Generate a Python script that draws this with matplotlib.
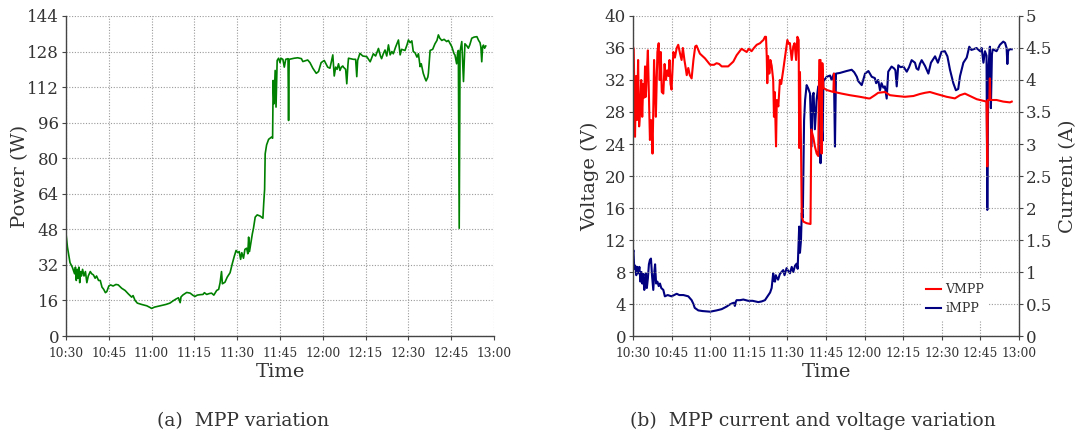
import numpy as np
import matplotlib
matplotlib.use('Agg')
import matplotlib.pyplot as plt
from matplotlib.lines import Line2D

plt.rcParams['font.family'] = ['DejaVu Serif']
plt.rcParams['text.color'] = '#333333'
plt.rcParams['axes.labelcolor'] = '#333333'
plt.rcParams['xtick.color'] = '#333333'
plt.rcParams['ytick.color'] = '#333333'

# minutes after 10:30
time_ticks = [0, 15, 30, 45, 60, 75, 90, 105, 120, 135, 150]
time_labels = ['10:30', '10:45', '11:00', '11:15', '11:30', '11:45',
               '12:00', '12:15', '12:30', '12:45', '13:00']

power_t = [0, 0.5, 1.4, 2.2, 3.0, 3.3, 3.6, 3.9, 4.2, 4.5, 4.8, 5.1, 5.4, 5.8, 6.3, 6.8,
           7.3, 7.8, 8.5, 9.0, 9.6, 10.2, 10.7, 11.4, 12.0, 12.6, 13.2, 13.8, 14.3, 15.0,
           15.6, 16.5, 17.5, 18.3, 19.5, 20.7, 21.8, 23.0, 23.5, 24.2, 25.0, 26.5, 28.3,
           29.5, 30.0, 31.0, 33.0, 35.0, 36.4, 37.5, 38.5, 39.4, 40.0, 40.3, 41.0, 42.3,
           43.5, 44.5, 45.2, 46.0, 47.0, 48.0, 48.5, 49.3, 50.2, 51.0, 51.8, 52.8, 53.5,
           54.0, 54.5, 54.8, 55.7, 56.5, 57.5, 58.3, 59.0, 59.6, 60.2, 60.7, 61.2, 61.6,
           62.2, 62.7, 63.3, 63.7, 64.0, 64.3, 64.8, 65.3, 65.7, 66.3, 67.0, 68.0, 69.0,
           69.3, 69.6, 69.8, 70.3, 71.0, 72.0, 72.4, 72.6, 72.9, 73.3, 73.6, 74.0, 74.5,
           75.0, 75.3, 76.0, 76.5, 77.0, 77.8, 78.0, 78.2, 80.0, 81.2, 82.5, 83.0, 84.7,
           85.5, 86.5, 87.7, 88.5, 89.4, 90.5, 91.7, 92.5, 93.5, 94.0, 94.5, 95.0, 95.5,
           96.0, 96.5, 97.0, 97.2, 98.0, 98.4, 98.8, 99.0, 100.7, 101.5, 101.9, 102.2,
           103.0, 104.0, 105.4, 106.6, 107.7, 108.5, 109.5, 110.2, 110.6, 111.2, 111.8,
           112.4, 113.0, 113.6, 114.2, 114.7, 115.5, 116.5, 117.1, 117.6, 118.8, 119.5,
           120.0, 120.6, 121.2, 121.7, 122.3, 123.0, 123.5, 124.1, 124.5, 125.2, 125.8,
           126.2, 126.8, 127.0, 127.6, 128.5, 129.3, 130.0, 130.5, 131.0, 131.7, 132.5,
           133.4, 134.0, 135.2, 136.0, 136.3, 136.9, 137.2, 137.5, 137.8, 138.1, 138.7,
           139.3, 139.8, 140.5, 141.0, 141.5, 142.2, 143.0, 144.0, 144.6, 145.1, 145.4,
           145.7, 146.0, 146.3, 146.7, 147.1]
power_w = [46, 40, 33, 31, 28, 31, 25, 30, 26, 31, 24, 29, 27, 30, 27, 29,
           24, 27, 29, 28, 27.5, 26, 27, 25, 25, 22, 21, 19.5, 20, 22.5,
           23, 22.5, 23.2, 23, 21.5, 20.5, 19, 17.5, 18.2, 16, 14.8, 14.2, 13.6,
           12.8, 12.4, 13, 13.6, 14.2, 14.8, 15.8, 16.6, 17.2, 15, 17.6, 18.5, 19.6,
           19.3, 18.3, 17.8, 18.4, 18.6, 18.7, 19.5, 18.7, 19.1, 19.3, 18.4, 20.5, 21,
           24, 29, 23.5, 24.2, 26.5, 28.5, 32.7, 36, 38.5, 37.5, 38, 34.5, 37.5,
           35, 39, 39.5, 37, 44.5, 38, 42, 46, 48.5, 53.5, 54.5, 54, 53,
           60, 66, 82, 86, 88.5, 89.5, 89, 115, 104.5, 119.5, 103, 124, 125,
           123, 125, 124.5, 121, 124.5, 124.8, 97, 124.5, 125, 125.2, 124.8, 123.5, 124.2,
           123, 120.5, 118.2, 119, 123, 124, 121, 120.5, 126.5, 117, 121, 120, 122.5,
           119.5, 121, 121.5, 121, 120, 113.5, 122, 125, 124.5, 124.5, 116.7, 124,
           127.2, 126, 125.7, 123.4, 127, 126, 129.4, 126, 124.8, 127, 128.7,
           126, 131, 126.5, 128, 127, 130, 133.2, 126.5, 129, 128.5, 131,
           133.2, 132, 132.8, 128, 127.5, 125.5, 127, 121.2, 122.5, 118.2, 116,
           114.8, 116.5, 118.2, 128.5, 129, 131.5, 133, 135.5, 134, 133, 133.5,
           132.5, 133, 130.2, 127, 126.5, 122.5, 127, 128.5, 48.5, 128, 132.5,
           114.5, 131.5, 130.5, 129.5, 131, 134, 134.5, 134.7, 133, 132, 130,
           123.4, 130, 130.9, 129.5, 130.5]

vmpp_t = [0, 0.3, 0.8, 1.2, 1.6, 2.0, 2.4, 2.8, 3.2, 3.6, 4.0, 4.4, 4.7, 5.0, 5.4, 5.8,
          6.2, 6.6, 7.0, 7.3, 7.6, 8.0, 8.2, 8.6, 8.9, 9.3, 9.5, 10.0, 10.4, 10.8, 11.2,
          11.8, 12.3, 12.8, 13.3, 13.8, 14.2, 14.6, 15.0, 15.7, 16.3, 17.0, 17.6, 18.3,
          18.9, 19.4, 20.0, 20.5, 20.9, 21.5, 22.1, 22.8, 23.5, 24.2, 24.7, 26.0, 28.0,
          30.0, 31.5, 32.5, 33.5, 34.5, 37.0, 39.0, 40.3, 42.2, 43.2, 44.2, 45.0, 46.1,
          47.0, 48.1, 49.4, 50.0, 50.7, 51.3, 51.7, 52.0, 52.2, 52.5, 53.0, 53.4, 53.9,
          54.5, 54.8, 55.1, 55.6, 55.9, 56.5, 57.1, 57.6, 58.4, 59.1, 60.0, 60.6, 61.0,
          61.7, 62.3, 62.8, 63.4, 63.9, 64.4, 64.6, 64.9, 65.3, 65.6, 66.2, 67.5, 69.0,
          69.3, 70.1, 70.7, 71.4, 72.0, 72.4, 72.9, 73.3, 73.6, 74.0, 75.3, 77.9, 78.1,
          78.3, 81.1, 84.3, 88.2, 91.5, 92.1, 94.0, 95.3, 97.9, 99.9, 102.5, 105.7,
          109.0, 111.5, 113.5, 115.4, 118.0, 121.9, 125.1, 127.1, 129.0, 131.0, 133.6,
          136.2, 137.4, 137.7, 137.9, 138.5, 138.7, 138.9, 141.3, 143.9, 146.5, 147.2]
vmpp_v = [36.2, 35.8, 24.9, 32.5, 27, 34.5, 26.2, 28, 32, 27.4, 31.5, 29.8, 33.7, 29.9, 33, 35.7,
          30, 24.5, 27, 26.2, 22.8, 30, 34.5, 31, 27.4, 33, 35.5, 36.6, 32, 35.5, 30.5,
          30.3, 34, 32, 33.2, 32.5, 34.5, 31.5, 30.8, 35.5, 34.8, 36, 36.4, 35.3,
          34.5, 36, 34.5, 33.5, 32.6, 33.5, 32.6, 32.2, 34.5, 36.2, 36.3, 35.3, 34.7,
          33.9, 33.9, 34.1, 34, 33.7, 33.7, 34.3, 35.1, 35.9, 35.7, 35.5, 35.9, 35.6,
          36, 36.4, 36.6, 36.8, 37, 37.4, 37.4, 34.9, 31.6, 35, 32.8, 34.5, 33.8,
          32, 27.4, 30.5, 23.7, 29.5, 28.7, 32, 31.5, 33.25, 34.9, 37, 36.5, 36.6,
          34.5, 36.2, 36.6, 34.5, 37.4, 37, 23.5, 33, 24, 14.9, 14.3, 14.1, 14.0,
          25.8, 24.8, 23.7, 22.8, 22.5, 34.5, 34.5, 22.8, 34.1, 31, 30.75, 30.5, 32.8,
          30.5, 30.3, 30.1, 29.9, 29.7, 29.7, 30.1, 30.4, 30.5, 30.1, 30.0, 29.9,
          30.0, 30.25, 30.4, 30.5, 30.25, 29.9, 29.7, 30.1, 30.3, 30, 29.6,
          29.4, 29.3, 21.2, 29.5, 29.5, 32.2, 29.5, 29.5, 29.3, 29.2, 29.3]

impp_t = [0, 0.2, 0.5, 0.9, 1.3, 1.7, 2.1, 2.5, 2.9, 3.3, 3.6, 4.0, 4.4, 4.7, 5.0, 5.4,
          5.8, 6.2, 6.6, 7.0, 7.4, 7.9, 8.3, 8.6, 9.0, 9.5, 10.0, 10.5, 11.0, 11.8, 12.4,
          13.5, 15.0, 16.0, 17.0, 18.0, 19.6, 21.5, 22.8, 23.5, 24.0, 25.4, 27.0, 30.0,
          32.5, 34.5, 36.4, 37.5, 38.5, 39.3, 39.6, 40.0, 40.3, 41.6, 42.9, 44.8, 46.5,
          48.7, 50.0, 51.3, 52.6, 53.3, 53.9, 54.5, 54.8, 55.2, 55.5, 55.8, 56.4, 57.1,
          58.4, 58.9, 59.7, 60.3, 61.0, 61.7, 62.3, 63.0, 63.6, 64.0, 64.6, 64.9, 65.3,
          65.6, 66.0, 66.2, 66.5, 66.9, 67.5, 68.1, 68.8, 69.4, 69.8, 70.2, 70.7, 71.4,
          72.0, 72.4, 72.7, 72.9, 73.2, 73.7, 74.0, 75.3, 76.6, 77.2, 78.1, 78.5, 78.9,
          80.4, 83.0, 85.0, 86.0, 87.0, 87.6, 88.9, 90.2, 91.5, 92.1, 92.8, 94.0, 94.5,
          95.3, 96.0, 96.6, 97.3, 97.9, 98.6, 99.2, 100.5, 101.5, 102.0, 102.5, 103.1,
          104.0, 105.1, 106.4, 107.3, 108.3, 109.6, 110.2, 110.9, 111.5, 112.2, 113.5,
          114.8, 115.8, 117.4, 118.5, 119.9, 121.2, 122.2, 123.2, 124.5, 125.5, 126.4,
          127.1, 128.4, 129.7, 130.7, 131.5, 132.3, 133.5, 134.9, 135.5, 136.2, 136.8,
          137.4, 137.7, 138.1, 138.7, 139.1, 139.5, 139.8, 141.3, 142.6, 143.9, 144.6,
          145.2, 145.5, 145.8, 146.3, 147.2]
impp_a = [1.3, 1.34, 1.05, 1.1, 0.95, 1.08, 0.98, 1.08, 0.85, 1.0, 0.82, 0.97, 0.72, 0.8, 0.98, 0.75,
          0.9, 1.12, 1.19, 1.21, 0.95, 0.72, 1.0, 1.12, 0.82, 0.85, 0.78, 0.82, 0.75, 0.72, 0.62,
          0.64, 0.62, 0.64, 0.66, 0.64, 0.64, 0.62, 0.56, 0.5, 0.44, 0.40, 0.39, 0.38,
          0.40, 0.42, 0.46, 0.49, 0.51, 0.52, 0.47, 0.54, 0.56, 0.56, 0.57, 0.55, 0.55,
          0.53, 0.54, 0.56, 0.64, 0.68, 0.75, 0.98, 0.86, 0.85, 0.95, 0.92, 0.88, 0.97,
          1.03, 0.95, 1.06, 1.02, 0.98, 1.08, 1.0, 1.1, 1.13, 1.05, 1.71, 1.3, 1.5,
          1.92, 1.85, 2.5, 3.37, 3.69, 3.92, 3.87, 3.79, 2.96, 3.75, 3.8, 3.23, 3.7,
          3.9, 3.6, 3.37, 2.7, 3.4, 3.05, 3.98, 4.05, 4.07, 4.0, 4.1, 2.96, 4.1,
          4.11, 4.14, 4.16, 4.12, 4.05, 3.98, 3.92, 4.1, 4.14, 4.1, 4.05, 4.03, 3.95,
          4.0, 3.84, 3.95, 3.88, 3.9, 3.71, 4.13, 4.21, 4.18, 4.15, 3.9, 4.23,
          4.2, 4.21, 4.13, 4.2, 4.31, 4.27, 4.18, 4.16, 4.25, 4.31, 4.22,
          4.1, 4.27, 4.37, 4.27, 4.44, 4.45, 4.37, 4.16, 3.95, 3.84, 3.86,
          4.06, 4.27, 4.35, 4.52, 4.47, 4.48, 4.5, 4.45, 4.5, 4.27, 4.45,
          4.38, 1.97, 4.16, 4.52, 3.56, 4.4, 4.48, 4.45, 4.55, 4.6, 4.58,
          4.5, 4.25, 4.45, 4.48, 4.48]

power_ticks = np.arange(0, 145, 16)
volt_ticks = np.arange(0, 41, 4)
curr_ticks = [0, 0.5, 1, 1.5, 2, 2.5, 3, 3.5, 4, 4.5, 5]
curr_labels = ['0', '0.5', '1', '1.5', '2', '2.5', '3', '3.5', '4', '4.5', '5']

GRID = dict(color='#9a9a9a', linestyle=(0, (1, 1.5)), linewidth=0.8)
SPINE = '#444444'


def style_axis(ax):
    ax.set_xlim(0, 150)
    ax.set_xticks(time_ticks)
    ax.set_xticklabels(time_labels, fontsize=8.8)
    ax.grid(True, **GRID)
    ax.set_axisbelow(True)
    ax.spines['top'].set_visible(False)
    ax.spines['right'].set_visible(False)
    for s in ('left', 'bottom'):
        ax.spines[s].set_color(SPINE)
        ax.spines[s].set_linewidth(1.0)
    ax.tick_params(axis='both', direction='out', length=3, width=0.8, color=SPINE)
    ax.tick_params(axis='x', pad=5)
    ax.tick_params(axis='y', labelsize=12, pad=2)
    ax.set_xlabel('Time', fontsize=14, labelpad=2)


fig = plt.figure(figsize=(10.77, 4.37), dpi=100)

# (a) power at the maximum power point
ax1 = fig.add_axes([0.0613, 0.2311, 0.3974, 0.7323])
ax1.plot(power_t, power_w, color='green', linewidth=1.2)
style_axis(ax1)
ax1.set_ylim(0, 144)
ax1.set_yticks(power_ticks)
ax1.set_ylabel('Power (W)', fontsize=14, labelpad=-1)

# (b) voltage and current at the maximum power point
ax2 = fig.add_axes([0.5877, 0.2311, 0.3584, 0.7323])
ax3 = ax2.twinx()
ax3.plot(impp_t, impp_a, color='#000080', linewidth=1.5)
ax2.plot(vmpp_t, vmpp_v, color='#ff0000', linewidth=1.5)
style_axis(ax2)
ax2.set_ylim(0, 40)
ax2.set_yticks(volt_ticks)
ax2.set_ylabel('Voltage (V)', fontsize=14, labelpad=4)
ax2.set_zorder(ax3.get_zorder() + 1)
ax2.patch.set_visible(False)

ax3.set_ylim(0, 5)
ax3.set_yticks(curr_ticks)
ax3.set_yticklabels(curr_labels)
ax3.tick_params(axis='y', direction='out', length=3, width=0.8, color=SPINE,
                labelsize=12, pad=2)
for s in ('top', 'left', 'bottom'):
    ax3.spines[s].set_visible(False)
ax3.spines['right'].set_color(SPINE)
ax3.spines['right'].set_linewidth(1.0)
ax3.set_ylabel('Current (A)', fontsize=14, labelpad=5)

handles = [Line2D([], [], color='#ff0000', linewidth=1.5),
           Line2D([], [], color='#000080', linewidth=1.5)]
leg = ax2.legend(handles, ['VMPP', 'iMPP'], loc='center', bbox_to_anchor=(0.835, 0.115),
                 fontsize=9, frameon=True, handlelength=1.2, handletextpad=0.3,
                 labelspacing=0.5, borderpad=0.4)
leg.get_frame().set_edgecolor('none')
leg.get_frame().set_facecolor('white')
leg.get_frame().set_alpha(1.0)

fig.text(0.2256, 0.037, '(a)  MPP variation', ha='center', va='center', fontsize=13.5)
fig.text(0.755, 0.037, '(b)  MPP current and voltage variation', ha='center',
         va='center', fontsize=13.5)

fig.savefig('out.png', dpi=100)
